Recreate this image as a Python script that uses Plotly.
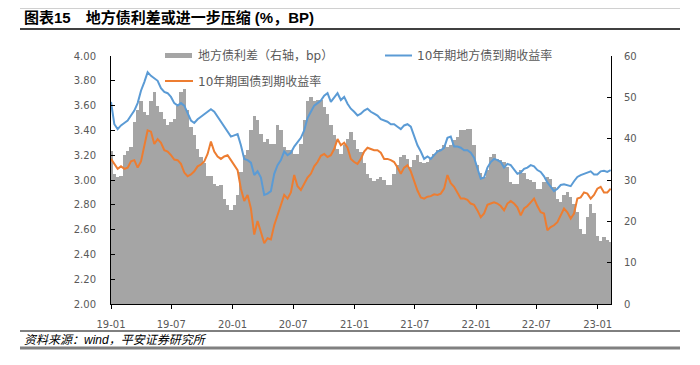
import plotly.graph_objects as go
import pandas as pd

# ---------------- data (~10-day spacing) ----------------
dates = pd.date_range("2019-01-01", periods=151, freq="10D")

local_yield = [
    3.63, 3.45, 3.41, 3.44, 3.46, 3.48, 3.52, 3.56, 3.62, 3.72, 3.79, 3.87, 3.84, 3.82, 3.80,
    3.74, 3.71, 3.70, 3.67, 3.62, 3.60, 3.62, 3.60, 3.54, 3.48, 3.46, 3.49, 3.51, 3.53, 3.55,
    3.57, 3.55, 3.51, 3.48, 3.44, 3.40, 3.35, 3.36, 3.37, 3.28, 3.17, 3.16, 3.14, 3.04, 3.07,
    3.02, 2.88, 2.89, 2.91, 3.05, 3.12, 3.16, 3.23, 3.20, 3.22, 3.27, 3.31, 3.34, 3.40, 3.50,
    3.55, 3.60, 3.62, 3.64, 3.68, 3.70, 3.63, 3.67, 3.70, 3.645, 3.67, 3.615, 3.575, 3.55, 3.52,
    3.535, 3.56, 3.575, 3.55, 3.535, 3.52, 3.49, 3.48, 3.47, 3.45, 3.45, 3.43, 3.41, 3.44, 3.45,
    3.43, 3.35, 3.28, 3.23, 3.17, 3.19, 3.17, 3.20, 3.23, 3.24, 3.26, 3.34, 3.35, 3.27, 3.27,
    3.26, 3.24, 3.24, 3.22, 3.18, 3.10, 3.01, 3.02, 3.10, 3.145, 3.17, 3.16, 3.145, 3.10, 3.13,
    3.12, 3.08, 3.05, 3.06, 3.09, 3.10, 3.12, 3.11, 3.08, 3.065, 3.03, 2.98, 2.94, 2.91, 2.93,
    2.96, 2.965, 2.96, 2.95, 2.99, 3.025, 3.04, 3.05, 3.065, 3.07, 3.045, 3.045, 3.07, 3.075, 3.065,
    3.08,
]

treasury_yield = [
    3.17, 3.13, 3.09, 3.11, 3.09, 3.10, 3.15, 3.16, 3.10, 3.15, 3.29, 3.40, 3.39, 3.29, 3.33,
    3.30, 3.24, 3.23, 3.20, 3.165, 3.16, 3.13, 3.06, 3.03, 3.045, 3.07, 3.11, 3.125, 3.15, 3.21,
    3.31, 3.23, 3.19, 3.17, 3.19, 3.20, 3.16, 3.12, 3.08, 2.93, 2.83, 2.88, 2.77, 2.56, 2.67,
    2.58, 2.49, 2.53, 2.52, 2.635, 2.715, 2.80, 2.88, 2.85, 2.90, 3.04, 2.95, 2.92, 2.97, 3.02,
    3.05, 3.11, 3.145, 3.195, 3.21, 3.185, 3.20, 3.25, 3.33, 3.28, 3.30, 3.26, 3.17, 3.145, 3.13,
    3.17, 3.23, 3.26, 3.25, 3.24, 3.24, 3.22, 3.17, 3.17, 3.16, 3.145, 3.10, 3.05, 3.10, 3.12,
    3.07, 2.99, 2.915, 2.86, 2.85, 2.865, 2.87, 2.885, 2.88, 2.89, 2.93, 3.04, 2.975, 2.945, 2.90,
    2.85, 2.85, 2.84, 2.81, 2.80, 2.755, 2.70, 2.73, 2.80, 2.81, 2.82, 2.81, 2.79, 2.755, 2.81,
    2.83, 2.81, 2.78, 2.715, 2.77, 2.79, 2.82, 2.85, 2.79, 2.74, 2.73, 2.595, 2.62, 2.635, 2.66,
    2.715, 2.77, 2.74, 2.69, 2.73, 2.85, 2.86, 2.90, 2.89, 2.85, 2.88, 2.93, 2.945, 2.90, 2.90,
    2.93,
]

spread_bp = [
    37, 31.5, 30.7, 31, 36, 37, 38, 44, 47, 49, 46.5, 45.7, 49, 51.3, 48,
    46.5, 44.8, 43.2, 44, 44.8, 48, 51.3, 52, 47, 42.8, 41, 37.6, 35.6, 34, 31,
    31, 29, 28.5, 28.8, 25.5, 23.9, 22.7, 24, 26.3, 32, 36, 37.2, 42, 45.6, 44.5,
    41.2, 39.2, 40, 38.8, 38.8, 43.2, 42, 38, 37.2, 37.2, 36.4, 36.4, 38.8, 44.5, 49,
    50, 49, 49.3, 49.3, 47.7, 46, 43.2, 40.8, 37.6, 36.4, 38.4, 40, 41.6, 39.6, 37.6,
    36.8, 34, 31.5, 30.6, 29.8, 30.3, 30.8, 29.9, 28.7, 28.7, 31.5, 33.6, 35.6, 36, 35.2,
    33.2, 34.8, 36, 34.4, 34, 34.4, 35.2, 36.4, 37.2, 37.6, 38.4, 38, 38.4, 39.6, 40.4,
    42, 42, 42.4, 42.4, 38.4, 33.6, 31.6, 30.8, 32.4, 35.6, 36.4, 35.2, 34.8, 34.4, 33.2,
    29.5, 29, 29, 32.4, 31.6, 30.3, 29.9, 29.5, 27.9, 27.9, 29.5, 30.8, 30.3, 28.3, 25.5,
    24.7, 26.3, 27.1, 25.9, 24.3, 22.2, 18.2, 17, 21, 24.3, 22, 16.5, 15.2, 16.3, 15.5,
    15,
]

series_names = ["地方债利差（右轴，bp）", "10年期地方债到期收益率", "10年期国债到期收益率"]
title_text = "图表15　地方债利差或进一步压缩 (%，BP)"
source_text = "资料来源：wind，平安证券研究所"

# ---------------- styling ----------------
GRAY = "#A5A5A5"
BLUE = "#5B9BD5"
ORANGE = "#ED7D31"
TXT = "#595959"
TICKFONT = dict(family="DejaVu Sans", size=10, color=TXT)
CJK = "DejaVu Sans, Noto Sans CJK SC"

OFF = 8  # page body margin offset
W, H = 700 - OFF, 365 - OFF
L, R, T, B = 111, 611, 56, 304  # target plot-area pixel bounds in the window


def px(x):
    return (x - L) / (R - L)


def py(y):
    return (B - y) / (B - T)


fig = go.Figure()
fig.add_trace(go.Bar(
    x=dates, y=spread_bp, name=series_names[0], yaxis="y",
    marker=dict(color=GRAY, line=dict(width=0)), width=10 * 86400000,
    showlegend=False,
))
fig.add_trace(go.Scatter(
    x=dates, y=local_yield, name=series_names[1], yaxis="y2", mode="lines",
    line=dict(color=BLUE, width=2), showlegend=False,
))
fig.add_trace(go.Scatter(
    x=dates, y=treasury_yield, name=series_names[2], yaxis="y2", mode="lines",
    line=dict(color=ORANGE, width=2), showlegend=False,
))

shapes = [
    dict(type="line", xref="paper", yref="paper", x0=px(20), x1=px(680), y0=py(8.5), y1=py(8.5),
         line=dict(color="#D0D0D0", width=1)),
    dict(type="line", xref="paper", yref="paper", x0=px(20), x1=px(680), y0=py(29), y1=py(29),
         line=dict(color="#000000", width=1.5)),
    dict(type="line", xref="paper", yref="paper", x0=px(20), x1=px(680), y0=py(331), y1=py(331),
         line=dict(color="#000000", width=1)),
    dict(type="line", xref="paper", yref="paper", x0=px(20), x1=px(680), y0=py(348), y1=py(348),
         line=dict(color="#808080", width=3)),
    # legend symbols
    dict(type="rect", xref="paper", yref="paper", x0=px(165), x1=px(192), y0=py(58), y1=py(53),
         fillcolor=GRAY, line=dict(width=0)),
    dict(type="line", xref="paper", yref="paper", x0=px(385), x1=px(412), y0=py(55.5), y1=py(55.5),
         line=dict(color=BLUE, width=2)),
    dict(type="line", xref="paper", yref="paper", x0=px(165), x1=px(193), y0=py(81), y1=py(81),
         line=dict(color=ORANGE, width=2)),
]

annotations = [
    dict(text="<b>" + title_text + "</b>", xref="paper", yref="paper", x=px(22), y=py(18),
         xanchor="left", yanchor="middle", showarrow=False,
         font=dict(family="Liberation Sans, Noto Sans CJK SC", size=15, color="#000000")),
    dict(text="<i>" + source_text + "</i>", xref="paper", yref="paper", x=px(22), y=py(340),
         xanchor="left", yanchor="middle", showarrow=False,
         font=dict(family="Liberation Sans, Noto Sans CJK SC", size=12, color="#000000")),
    dict(text=series_names[0], xref="paper", yref="paper", x=px(196), y=py(55.5),
         xanchor="left", yanchor="middle", showarrow=False,
         font=dict(family=CJK, size=12, color=TXT)),
    dict(text=series_names[1], xref="paper", yref="paper", x=px(415), y=py(55.5),
         xanchor="left", yanchor="middle", showarrow=False,
         font=dict(family=CJK, size=12, color=TXT)),
    dict(text=series_names[2], xref="paper", yref="paper", x=px(196), y=py(81),
         xanchor="left", yanchor="middle", showarrow=False,
         font=dict(family=CJK, size=12, color=TXT)),
]

fig.update_layout(
    width=W, height=H,
    margin=dict(l=L - OFF, r=W - (R - OFF), t=T - OFF, b=H - (B - OFF), pad=0),
    paper_bgcolor="white", plot_bgcolor="white",
    bargap=0,
    showlegend=False,
    xaxis=dict(
        type="date", range=["2019-01-01", "2023-02-10"],
        tick0="2019-01-01", dtick="M6", tickformat="%y-%m",
        ticks="outside", ticklen=4, tickcolor="#000000",
        showline=True, linecolor="#000000", linewidth=1,
        showgrid=False, zeroline=False, tickfont=TICKFONT,
        ticklabelstandoff=7,
    ),
    yaxis=dict(
        side="right", range=[0, 60], dtick=10,
        ticks="inside", ticklen=4, tickcolor="#000000",
        showline=True, linecolor="#000000", linewidth=1,
        showgrid=False, zeroline=False, tickfont=TICKFONT,
        ticklabelstandoff=10,
    ),
    yaxis2=dict(
        overlaying="y", side="left", range=[2, 4], dtick=0.2, tickformat=".2f",
        ticks="inside", ticklen=4, tickcolor="#000000",
        showline=True, linecolor="#000000", linewidth=1,
        showgrid=False, zeroline=False, tickfont=TICKFONT,
        ticklabelstandoff=12,
    ),
    shapes=shapes,
    annotations=annotations,
)

fig.write_html("out.html")
